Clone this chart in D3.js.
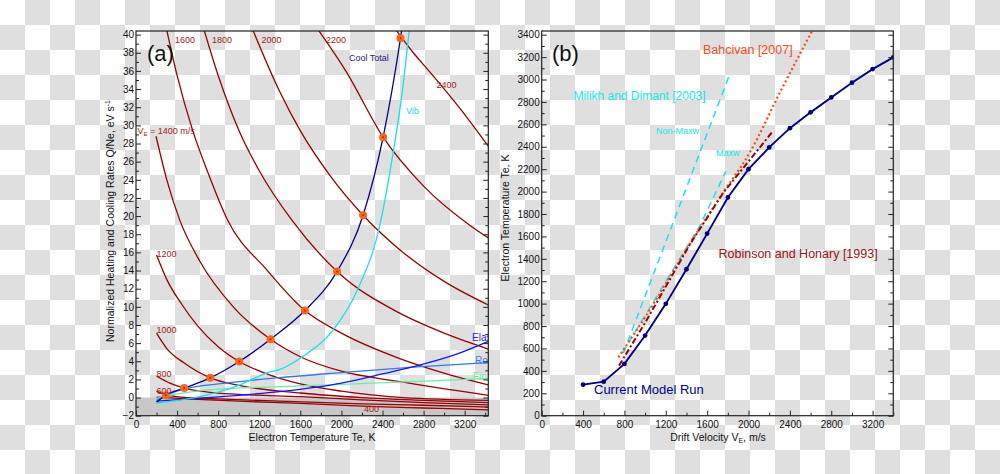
<!DOCTYPE html>
<html><head><meta charset="utf-8">
<script src="https://cdn.jsdelivr.net/npm/d3@7"></script>
<style>
body{margin:0;background:#fff;}
svg{display:block;}
text{font-family:"Liberation Sans",Arial,Helvetica,sans-serif;}
</style>
</head><body>
<svg id="c" width="1000" height="474"></svg>
<script>
// ---------------- DATA ----------------
// Panel (a): heating curves, [Te (K), Q/Ne (eV/s)] for each drift velocity
const heatVE = [400, 600, 800, 1000, 1200, 1400, 1600, 1800, 2000, 2200, 2400];
const heat400  = [[200,0.05],[600,-0.2],[1000,-0.4],[1600,-0.65],[2200,-0.95],[2800,-1.15],[3430,-1.35]];
const heat600  = [[200,0.7],[290,0.3],[450,0.05],[800,-0.15],[1400,-0.4],[2200,-0.7],[2800,-0.85],[3430,-1.05]];
const heat800  = [[200,2.35],[330,1.6],[470,1.04],[700,0.6],[1000,0.35],[1600,0.1],[2200,-0.25],[2800,-0.55],[3430,-0.8]];
const heat1000 = [[200,7.1],[300,5.4],[470,3.8],[723,2.17],[1000,1.35],[1600,0.5],[2200,0.0],[2800,-0.3],[3430,-0.55]];
const heat1200 = [[200,15.7],[300,13.0],[450,10.2],[600,7.9],[800,5.6],[1005,3.97],[1300,2.5],[1600,1.5],[2000,0.7],[2600,0.0],[3430,-0.3]];
const heat1400 = [[195,28.8],[300,24.0],[428,19.5],[623,15.0],[947,10.0],[1310,6.43],[1600,4.5],[2000,2.9],[2568,1.75],[3430,0.25]];
const heat1600 = [[290,41],[400,35.5],[550,29.5],[700,24.8],[890,19.6],[1271,14.1],[1644,9.59],[2000,7.1],[2568,4.3],[3000,2.7],[3430,1.4]];
const heat1800 = [[650,41],[800,35.5],[1000,29.5],[1200,25.0],[1514,19.6],[1958,13.9],[2568,9.3],[3000,7.1],[3430,5.35]];
const heat2000 = [[1120,41],[1400,33.7],[1595,29.5],[1900,24.3],[2211,20.1],[2600,16.0],[3000,12.8],[3430,10.2]];
const heat2200 = [[1745,41],[2048,35.9],[2406,28.7],[2800,23.3],[3249,19.0],[3430,17.6]];
const heat2400 = [[2500,41],[2700,38.0],[2860,35.9],[3152,31.9],[3430,27.7]];
// Cooling rates
const coolTotal = [[200,-0.5],[290,0.25],[470,1.04],[723,2.17],[1005,3.97],[1310,6.43],[1644,9.59],[1958,13.9],[2211,20.1],[2406,28.7],[2575,39.6],[2600,41.5]];
const coolVib   = [[200,-0.6],[623,0.1],[1012,1.4],[1271,2.7],[1401,3.1],[1620,4.5],[1920,7.46],[2163,12.05],[2374,19.0],[2505,27.1],[2590,33.5],[2665,41]];
const coolElas  = [[200,-0.4],[600,-0.1],[1000,0.25],[1400,0.66],[2000,1.6],[2400,2.6],[2700,3.4],[3100,4.7],[3430,6.2]];
const coolRot   = [[200,-0.3],[350,0.5],[500,1.0],[800,1.5],[1400,2.2],[2000,2.75],[2700,3.35],[3430,3.85]];
const coolFine  = [[200,-0.1],[400,0.4],[700,0.85],[1000,1.05],[1400,1.2],[2000,1.45],[2800,1.8],[3430,2.1]];
// Equilibrium points (heating = cooling)
const eqPoints  = [[290,0.25],[470,1.04],[723,2.17],[1005,3.97],[1310,6.43],[1644,9.59],[1958,13.9],[2211,20.1],[2406,28.7],[2575,39.6]];

// Panel (b): [drift velocity (m/s), Te (K)]
const currentRun = [[400,277],[600,304],[800,462],[1000,715],[1200,998],[1400,1307],[1600,1625],[1800,1947],[2000,2200],[2200,2394],[2400,2566],[2600,2707],[2800,2840],[3000,2972],[3200,3093],[3400,3198]];
const bahcivan   = [[741,521],[1000,880],[1450,1560],[1756,1993],[2015,2352],[2304,2885],[2614,3433]];
const robinson   = [[748,447],[1000,830],[1434,1530],[1756,1990],[2234,2537]];
const milikhNonMaxw = [[790,560],[1808,3022]];
const milikhMaxw    = [[780,560],[1531,1697],[1780,2180]];

// Tick values
const xTicksA = [0,400,800,1200,1600,2000,2400,2800,3200];
const yTicksA = d3.range(-2, 41, 2);
const xTicksB = [0,400,800,1200,1600,2000,2400,2800,3200];
const yTicksB = d3.range(0, 3401, 200);

// ---------------- DRAWING ----------------
const svg = d3.select("#c");
const defs = svg.append("defs");
const pat = defs.append("pattern").attr("id","chk").attr("patternUnits","userSpaceOnUse")
  .attr("width",50).attr("height",50);
pat.append("rect").attr("width",50).attr("height",50).attr("fill","#ffffff");
pat.append("rect").attr("x",25).attr("y",0).attr("width",25).attr("height",25).attr("fill","#dfdfdf");
pat.append("rect").attr("x",0).attr("y",25).attr("width",25).attr("height",25).attr("fill","#dfdfdf");
svg.append("rect").attr("width",1000).attr("height",474).attr("fill","url(#chk)");

const FONT = "Liberation Sans, Arial, sans-serif";

function frame(g, x, y, xt, xminor, yt, yminor, fmtY) {
  const [x0,x1] = x.range(), [y0,y1] = y.range();
  g.append("g").attr("transform",`translate(0,${y0})`)
    .call(d3.axisBottom(x).tickValues(xt).tickSize(-5).tickPadding(5.5).tickFormat(d3.format("d")));
  g.append("g").attr("transform",`translate(0,${y0})`)
    .call(d3.axisBottom(x).tickValues(xminor).tickSize(-3).tickFormat(""));
  g.append("g").attr("transform",`translate(${x0},0)`)
    .call(d3.axisLeft(y).tickValues(yt).tickSize(-5).tickPadding(2).tickFormat(fmtY));
  g.append("g").attr("transform",`translate(${x0},0)`)
    .call(d3.axisLeft(y).tickValues(yminor).tickSize(-3).tickFormat(""));
  g.append("g").attr("transform",`translate(${x1},0)`)
    .call(d3.axisRight(y).tickValues(yt).tickSize(-5).tickFormat(""));
  g.append("g").attr("transform",`translate(${x1},0)`)
    .call(d3.axisRight(y).tickValues(yminor).tickSize(-3).tickFormat(""));
  g.selectAll(".domain").remove();
  g.selectAll(".tick line").attr("stroke","#222").attr("stroke-width",1);
  g.selectAll(".tick text").attr("font-size","10px").attr("fill","#111").attr("font-family",FONT);
  g.append("rect").attr("x",x0).attr("y",y1).attr("width",x1-x0).attr("height",y0-y1)
    .attr("fill","none").attr("stroke","#222").attr("stroke-width",1.2);
}

// ----- Panel (a)
const xA = d3.scaleLinear().domain([0,3430]).range([136,488.3]);
const yA = d3.scaleLinear().domain([-2,40.4]).range([415.7,31]);
const gA = svg.append("g");
defs.append("clipPath").attr("id","clipA").append("rect")
  .attr("x",136).attr("y",31).attr("width",488.3-136).attr("height",415.7-31);
gA.append("rect").attr("x",xA(0)).attr("y",yA(0)).attr("width",xA(3430)-xA(0))
  .attr("height",yA(-2)-yA(0)).attr("fill","#c8c8c8");
const plotA = gA.append("g").attr("clip-path","url(#clipA)");
const lineA = d3.line().x(d=>xA(d[0])).y(d=>yA(d[1])).curve(d3.curveMonotoneX);

const heatSets = [heat400,heat600,heat800,heat1000,heat1200,heat1400,heat1600,heat1800,heat2000,heat2200,heat2400];
heatSets.forEach(s => plotA.append("path").attr("d",lineA(s)).attr("fill","none")
  .attr("stroke","#990000").attr("stroke-width",1.3));
const coolSets = [[coolFine,"#66f0a0"],[coolRot,"#2a7bff"],[coolElas,"#1414ff"],[coolVib,"#10e4f0"],[coolTotal,"#00008b"]];
coolSets.forEach(([s,c]) => plotA.append("path").attr("d",lineA(s)).attr("fill","none")
  .attr("stroke",c).attr("stroke-width",1.3));
plotA.selectAll("circle.eq").data(eqPoints).enter().append("circle")
  .attr("cx",d=>xA(d[0])).attr("cy",d=>yA(d[1])).attr("r",4).attr("fill","#ff6410");
plotA.selectAll("circle.eqc").data(eqPoints).enter().append("circle")
  .attr("cx",d=>xA(d[0])).attr("cy",d=>yA(d[1])).attr("r",1).attr("fill","#a03000");

// cooling labels (clipped by the frame)
const cl = [["Elas",472,341,"#2020ff"],["Rot",475,364,"#3080ff"],["Fine",473,380,"#66ee99"]];
cl.forEach(([t,x,y,c]) => plotA.append("text").attr("x",x).attr("y",y).attr("font-size","10px")
  .attr("fill",c).text(t));
gA.append("text").attr("x",349).attr("y",60.5).attr("font-size","9px").attr("fill","#1a1a8c").text("Cool Total");
gA.append("text").attr("x",406).attr("y",114).attr("font-size","9px").attr("fill","#10d8e8").text("Vib");

// heating labels
const hl = [["1600",175,42.5],["1800",212,42.5],["2000",261.5,42.5],["2200",326,42.5],["2400",436.5,87.5],
            ["1200",156.5,256.5],["1000",156.5,333],["800",156.5,376.5],["600",156.5,394],["400",364,412]];
hl.forEach(([t,x,y]) => gA.append("text").attr("x",x).attr("y",y).attr("font-size","9px")
  .attr("fill","#aa2020").text(t));
const vt = gA.append("text").attr("x",137.5).attr("y",134).attr("font-size","9px").attr("fill","#aa2020");
vt.append("tspan").text("V");
vt.append("tspan").attr("font-size","6px").attr("dy",2).text("E");
vt.append("tspan").attr("dy",-2).text(" = 1400 m/s");

frame(gA, xA, yA, xTicksA, d3.range(200,3401,400), yTicksA, d3.range(-1,41,2), d3.format("d"));
gA.append("text").attr("x",147).attr("y",61).attr("font-size","22px").attr("fill","#111").text("(a)");
gA.append("text").attr("x",312).attr("y",440.5).attr("text-anchor","middle").attr("font-size","10.5px")
  .attr("fill","#111").text("Electron Temperature Te, K");
const ytA = gA.append("text").attr("transform","translate(114,221) rotate(-90)").attr("text-anchor","middle")
  .attr("font-size","10.5px").attr("fill","#111");
ytA.append("tspan").text("Normalized Heating and Cooling Rates Q/Ne, eV s");
ytA.append("tspan").attr("font-size","7px").attr("dy",-4).text("-1");

// ----- Panel (b)
const xB = d3.scaleLinear().domain([0,3400]).range([541.7,893.3]);
const yB = d3.scaleLinear().domain([0,3433]).range([415.7,31]);
const gB = svg.append("g");
defs.append("clipPath").attr("id","clipB").append("rect")
  .attr("x",541.7).attr("y",31).attr("width",893.3-541.7).attr("height",415.7-31);
const plotB = gB.append("g").attr("clip-path","url(#clipB)");
const lineB = d3.line().x(d=>xB(d[0])).y(d=>yB(d[1]));
const lineBc = d3.line().x(d=>xB(d[0])).y(d=>yB(d[1])).curve(d3.curveMonotoneX);

plotB.append("path").attr("d",lineB(milikhNonMaxw)).attr("fill","none").attr("stroke","#10e8f0")
  .attr("stroke-width",1.5).attr("stroke-dasharray","7,5");
plotB.append("path").attr("d",lineB(milikhMaxw)).attr("fill","none").attr("stroke","#10e8f0")
  .attr("stroke-width",1.5).attr("stroke-dasharray","7,5");
plotB.append("path").attr("d",lineBc(bahcivan)).attr("fill","none").attr("stroke","#ff4a14")
  .attr("stroke-width",2.2).attr("stroke-dasharray","2,2.6");
plotB.append("path").attr("d",lineB(robinson)).attr("fill","none").attr("stroke","#a00000")
  .attr("stroke-width",2).attr("stroke-dasharray","6,2.5,2,2.5");
plotB.append("path").attr("d",lineB(currentRun)).attr("fill","none").attr("stroke","#00008b")
  .attr("stroke-width",1.9);
plotB.selectAll("circle.cr").data(currentRun).enter().append("circle")
  .attr("cx",d=>xB(d[0])).attr("cy",d=>yB(d[1])).attr("r",2.4).attr("fill","#00008b");

frame(gB, xB, yB, xTicksB, d3.range(200,3401,400), yTicksB, d3.range(100,3401,200), d3.format("d"));
gB.append("text").attr("x",552).attr("y",60.5).attr("font-size","22px").attr("fill","#111").text("(b)");
gB.append("text").attr("x",573.5).attr("y",100).attr("font-size","12px").attr("fill","#10e8f0").text("Milikh and Dimant [2003]");
gB.append("text").attr("x",656).attr("y",134).attr("font-size","9px").attr("fill","#10e8f0").text("Non-Maxw");
gB.append("text").attr("x",716).attr("y",155.5).attr("font-size","9px").attr("fill","#10e8f0").text("Maxw");
gB.append("text").attr("x",703).attr("y",54).attr("font-size","12.5px").attr("fill","#ff4a14").text("Bahcivan [2007]");
gB.append("text").attr("x",718.5).attr("y",258).attr("font-size","12.5px").attr("fill","#a01010").text("Robinson and Honary [1993]");
gB.append("text").attr("x",594).attr("y",394).attr("font-size","13px").attr("fill","#00008b").text("Current Model Run");
const xtB = gB.append("text").attr("x",718).attr("y",440.5).attr("text-anchor","middle").attr("font-size","10.5px").attr("fill","#111");
xtB.append("tspan").text("Drift Velocity V");
xtB.append("tspan").attr("font-size","7px").attr("dy",2.5).text("E");
xtB.append("tspan").attr("dy",-2.5).text(", m/s");
gB.append("text").attr("transform","translate(509,218) rotate(-90)").attr("text-anchor","middle")
  .attr("font-size","10.5px").attr("fill","#111").text("Electron Temperature Te, K");
</script>
</body></html>
